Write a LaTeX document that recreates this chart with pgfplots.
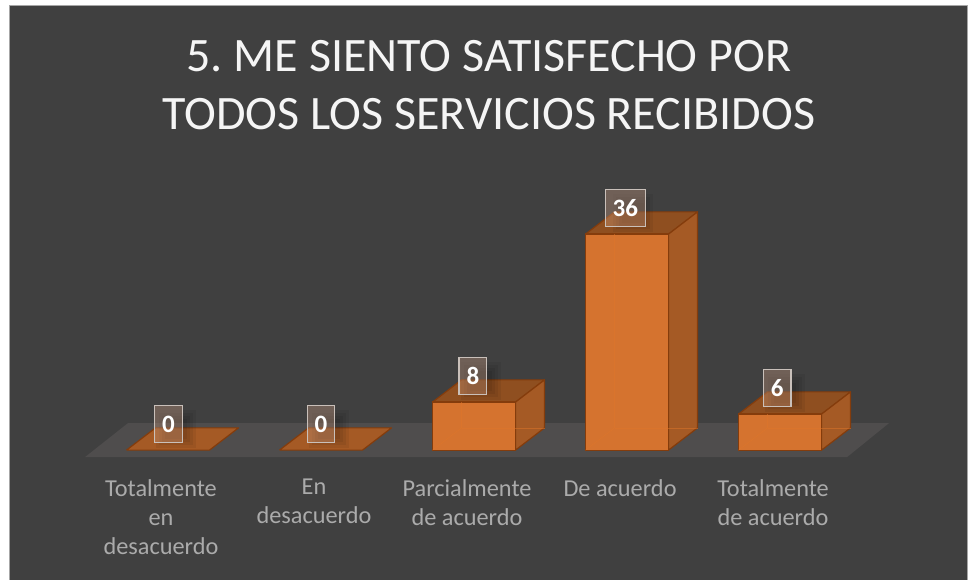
\documentclass[border=0pt]{standalone}
\usepackage{pgfplots}
\pgfplotsset{compat=1.18}
\usepackage{fontspec}
\setmainfont{Carlito}
\frenchspacing
\definecolor{bgc}{HTML}{404040}
\definecolor{floorc}{HTML}{4F4D4D}
\definecolor{frontc}{HTML}{D5732F}
\definecolor{sidec}{HTML}{A55A25}
\definecolor{topc}{HTML}{8F4F20}
\definecolor{edgec}{HTML}{843C0C}
\definecolor{innerc}{HTML}{E0762A}
\definecolor{tickc}{HTML}{ABABAB}
\definecolor{boxc}{HTML}{D4A488}
\definecolor{boxl}{HTML}{C9C0BA}
\pgfplotstableread{
x v
0.003 0
1.000 0
1.993 8
2.989 36
3.982 6
}\labels
\begin{document}
\begin{tikzpicture}
\begin{axis}[
  scale only axis, width=969pt, height=579pt,
  xmin=-1.098, xmax=5.235, ymin=-21.5, ymax=75,
  set layers=axis on top,
  axis line style={draw=none}, major tick length=0pt,
  axis background/.style={fill=white},
  ytick=\empty,
  xtick={0,1,2,3,4},
  xticklabels={{Totalmente\\en\\desacuerdo},{En\\desacuerdo},{Parcialmente\\de acuerdo},{De acuerdo},{Totalmente\\de acuerdo}},
  xticklabel style={align=center, font=\fontsize{24.3}{29}\selectfont, text=tickc, anchor=north, xshift=-7pt, yshift=103.5pt},
  title={5. ME SIENTO SATISFECHO POR\\TODOS LOS SERVICIOS RECIBIDOS},
  title style={at={(axis description cs:0.5046,1)}, anchor=north, yshift=-43pt, align=center, text=white!96!black, font=\fontsize{48}{58}\selectfont},
]
% chart area
\addplot[fill=bgc, draw=gray!70, line width=1pt] coordinates {(-1.039,74.17) (5.222,74.17) (5.222,-22) (-1.039,-22) (-1.039,74.17)};
% floor
\addplot[fill=floorc, draw=none] coordinates {(-0.5425,-1.167) (4.438,-1.167) (4.712,4.5) (-0.2614,4.5) (-0.5425,-1.167)};
% flat bars and top faces
\addplot[fill=sidec, draw=edgec, line width=1.2pt, line join=round] coordinates {(-0.2712,0) (0.2712,0) (0.4607,3.7) (-0.0817,3.7) (-0.2712,0)};
\addplot[fill=sidec, draw=edgec, line width=1.2pt, line join=round] coordinates {(0.7288,0) (1.2712,0) (1.4607,3.7) (0.9183,3.7) (0.7288,0)};
\addplot[fill=topc, draw=edgec, line width=1.2pt, line join=round] coordinates {(1.7288,8) (2.2712,8) (2.4607,11.7) (1.9183,11.7) (1.7288,8)};
\addplot[fill=topc, draw=edgec, line width=1.2pt, line join=round] coordinates {(2.7288,36) (3.2712,36) (3.4607,39.7) (2.9183,39.7) (2.7288,36)};
\addplot[fill=topc, draw=edgec, line width=1.2pt, line join=round] coordinates {(3.7288,6) (4.2712,6) (4.4607,9.7) (3.9183,9.7) (3.7288,6)};
% side faces
\addplot[fill=sidec, draw=edgec, line width=1.2pt, line join=round] coordinates {(2.2712,0) (2.4607,3.7) (2.4607,11.7) (2.2712,8) (2.2712,0)};
\addplot[fill=sidec, draw=edgec, line width=1.2pt, line join=round] coordinates {(3.2712,0) (3.4607,3.7) (3.4607,39.7) (3.2712,36) (3.2712,0)};
\addplot[fill=sidec, draw=edgec, line width=1.2pt, line join=round] coordinates {(4.2712,0) (4.4607,3.7) (4.4607,9.7) (4.2712,6) (4.2712,0)};
% front faces
\addplot[ybar, bar width=83pt, fill=frontc, draw=edgec, line width=1.2pt] coordinates {(2,8) (3,36) (4,6)};
% faint inner edges
\addplot[draw=innerc, draw opacity=0.5, line width=0.6pt] coordinates {(1.7288,0) (1.9183,3.7) (1.9183,8)};
\addplot[draw=innerc, draw opacity=0.5, line width=0.6pt] coordinates {(1.9183,3.7) (2.4607,3.7)};
\addplot[draw=innerc, draw opacity=0.5, line width=0.6pt] coordinates {(2.7288,0) (2.9183,3.7) (2.9183,36)};
\addplot[draw=innerc, draw opacity=0.5, line width=0.6pt] coordinates {(2.9183,3.7) (3.4607,3.7)};
\addplot[draw=innerc, draw opacity=0.5, line width=0.6pt] coordinates {(3.7288,0) (3.9183,3.7) (3.9183,6)};
\addplot[draw=innerc, draw opacity=0.5, line width=0.6pt] coordinates {(3.9183,3.7) (4.4607,3.7)};
% soft shadow of the labels
\pgfplotsinvokeforeach{8,14,20,26}{
\addplot[draw=none, mark=none, point meta=y,
  nodes near coords={},
  every node near coord/.append style={anchor=center, yshift=21pt, xshift=8pt, fill=black, fill opacity=0.06, draw=none, inner sep=0pt, minimum width=#1pt+14pt, minimum height=#1pt+12pt}]
  table[x=x,y=v]{\labels};
}
% labels
\addplot[draw=none, mark=none, point meta=y,
  nodes near coords={\pgfmathprintnumber[assume math mode=true]{\pgfplotspointmeta}},
  every node near coord/.append style={anchor=center, yshift=26pt, font=\fontsize{25}{29}\selectfont\bfseries, text=white, text opacity=1, fill=boxc, fill opacity=0.33, draw=boxl, draw opacity=1, line width=1.3pt, inner xsep=7.5pt, inner ysep=0pt, minimum height=37pt}]
  table[x=x,y=v]{\labels};
\end{axis}
\end{tikzpicture}
\end{document}
